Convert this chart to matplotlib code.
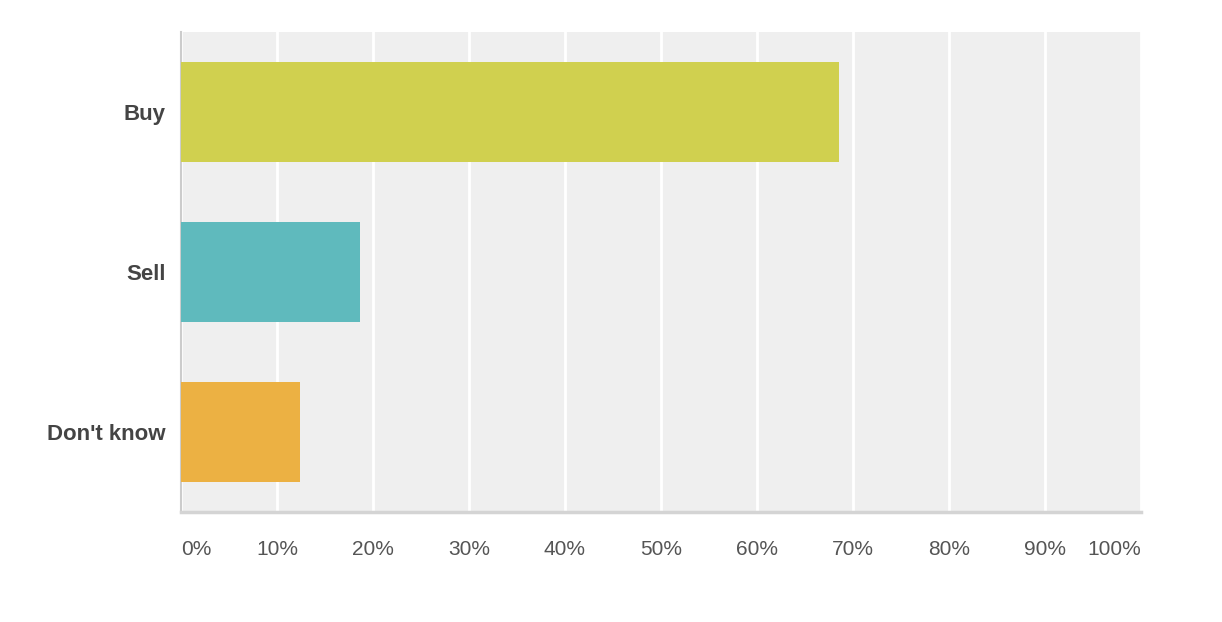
import matplotlib
matplotlib.use("Agg")
import matplotlib.pyplot as plt

categories = ["Buy", "Sell", "Don't know"]
values = [68.5, 18.6, 12.4]
colors = ["#d0d04f", "#5fbabd", "#ecb143"]
ticks = [0, 10, 20, 30, 40, 50, 60, 70, 80, 90, 100]
tick_labels = [f"{t}%" for t in ticks]

plt.rcParams['font.family'] = ['Liberation Sans', 'DejaVu Sans']

fig = plt.figure(figsize=(12.22, 6.22), dpi=100)
ax = fig.add_axes([0.1481, 0.1768, 0.7856, 0.7717])
ax.set_facecolor("#efefef")

ypos = list(range(len(categories)))
ax.barh(ypos, values, height=0.625, color=colors, zorder=3)
ax.set_ylim(len(categories) - 0.5, -0.5)
ax.set_xlim(0, 100)

ax.set_xticks(ticks)
ax.set_xticklabels(tick_labels)
ax.grid(axis="x", color="white", linewidth=2, zorder=1)
ax.set_axisbelow(True)
ax.tick_params(axis="x", length=0, pad=20, labelsize=15, labelcolor="#555555")
labels = ax.get_xticklabels()
labels[0].set_ha("left")
labels[-1].set_ha("right")

ax.set_yticks(ypos)
ax.set_yticklabels(categories, fontweight="bold")
ax.tick_params(axis="y", length=0, pad=11, labelsize=16, labelcolor="#444444")

for s in ["top", "right"]:
    ax.spines[s].set_visible(False)
ax.spines["left"].set_color("#cccccc")
ax.spines["left"].set_linewidth(1.5)
ax.spines["bottom"].set_color("#d4d4d4")
ax.spines["bottom"].set_linewidth(2.5)

fig.savefig("out.png", dpi=100)
